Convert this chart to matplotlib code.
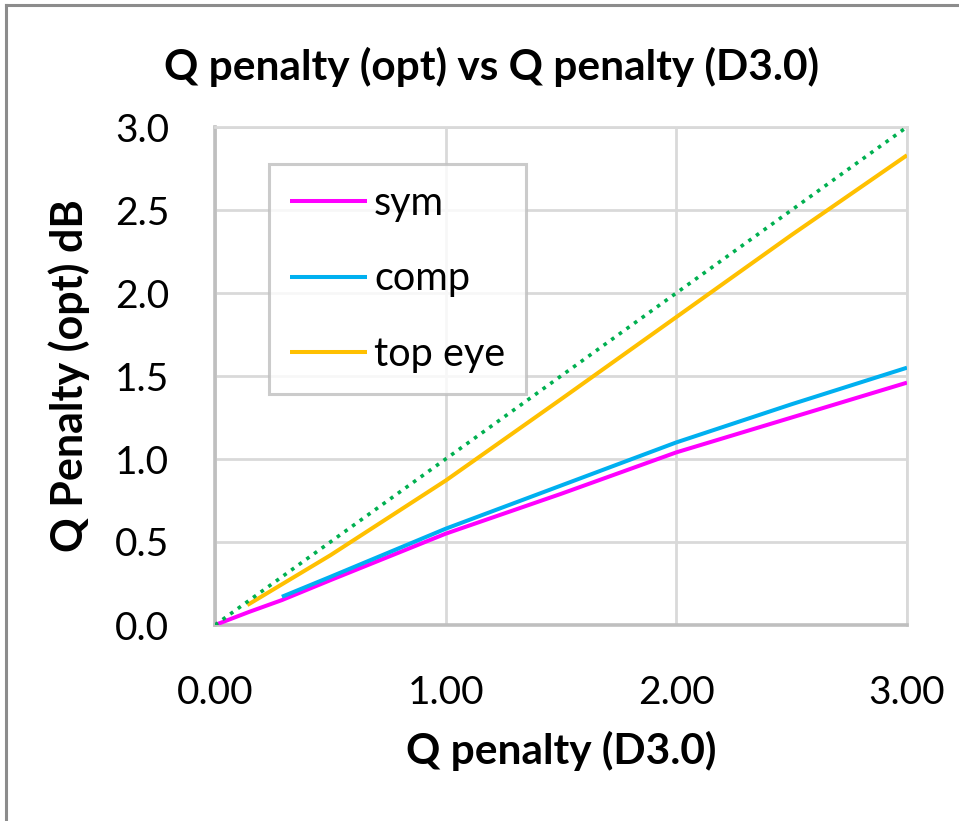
import matplotlib
matplotlib.use("Agg")
import matplotlib.pyplot as plt
from matplotlib.lines import Line2D

# ---- data ----
sym_x = [0.0, 0.15, 0.29, 0.5, 1.0, 1.5, 2.0, 2.5, 3.0]
sym_y = [0.0, 0.08, 0.15, 0.27, 0.55, 0.79, 1.04, 1.25, 1.46]
comp_x = [0.29, 0.5, 1.0, 1.5, 2.0, 2.5, 3.0]
comp_y = [0.17, 0.29, 0.58, 0.84, 1.10, 1.33, 1.55]
top_x = [0.14, 0.5, 1.0, 1.5, 2.0, 2.5, 3.0]
top_y = [0.12, 0.42, 0.87, 1.36, 1.855, 2.35, 2.83]
ref_x = [0.0, 3.0]
ref_y = [0.0, 3.0]
x_ticks = [0.0, 1.0, 2.0, 3.0]
y_ticks = [0.0, 0.5, 1.0, 1.5, 2.0, 2.5, 3.0]
labels = ["sym", "comp", "top eye"]

plt.rcParams['font.family'] = ['Lato', 'DejaVu Sans']

W, H = 959, 821
fig = plt.figure(figsize=(W / 100, H / 100), dpi=100)
ax = fig.add_axes([215 / W, 1 - 625 / H, 692 / W, 498 / H])

ax.plot(sym_x, sym_y, color='#ff00ff', lw=2.9, label=labels[0], zorder=3, solid_capstyle='butt')
ax.plot(comp_x, comp_y, color='#00b0f0', lw=2.9, label=labels[1], zorder=4, solid_capstyle='butt')
ax.plot(top_x, top_y, color='#ffc000', lw=2.9, label=labels[2], zorder=5, solid_capstyle='butt')
ax.plot(ref_x, ref_y, color='#00b050', lw=2.6, linestyle=(0, (1, 1.6)), zorder=6)

ax.set_xlim(0, 3)
ax.set_ylim(0, 3)
ax.set_xticks(x_ticks)
ax.set_yticks(y_ticks)
ax.set_xticklabels([f"{v:.2f}" for v in x_ticks])
ax.set_yticklabels([f"{v:.1f}" for v in y_ticks])
ax.tick_params(axis='both', length=0, labelsize=28, colors='black')
ax.tick_params(axis='x', pad=36)
ax.tick_params(axis='y', pad=33)

ax.grid(True, color='#d9d9d9', lw=2.0, zorder=0)
ax.set_axisbelow(True)
for s in ['top', 'right']:
    ax.spines[s].set_color('#d9d9d9')
    ax.spines[s].set_linewidth(2.0)
for s in ['left', 'bottom']:
    ax.spines[s].set_color('#bfbfbf')
    ax.spines[s].set_linewidth(2.6)

ax.set_xlabel("Q penalty (D3.0)", fontsize=30.5, fontweight='bold', labelpad=14)
ax.set_ylabel("Q Penalty (opt) dB", fontsize=31, fontweight='bold', labelpad=18)
fig.text(492 / W, 1 - 67 / H, "Q penalty (opt) vs Q penalty (D3.0)",
         fontsize=30.5, fontweight='bold', ha='center', va='center')

leg = ax.legend(loc='upper left', bbox_to_anchor=((269 - 215) / 692, (625 - 164) / 498),
                borderaxespad=0, fontsize=28.5, frameon=True, fancybox=False,
                handlelength=1.95, handletextpad=0.18, labelspacing=0.98, borderpad=0.52)
leg.get_frame().set_edgecolor('#bfbfbf')
leg.get_frame().set_linewidth(2.2)

# outer chart frame (left and top edges visible)
fig.add_artist(Line2D([6 / W, 6 / W], [0, 1 - 5 / H], transform=fig.transFigure, color='#8c8c8c', lw=2.2))
fig.add_artist(Line2D([6 / W, 1], [1 - 5 / H, 1 - 5 / H], transform=fig.transFigure, color='#8c8c8c', lw=2.2))

fig.savefig("out.png", dpi=100)
